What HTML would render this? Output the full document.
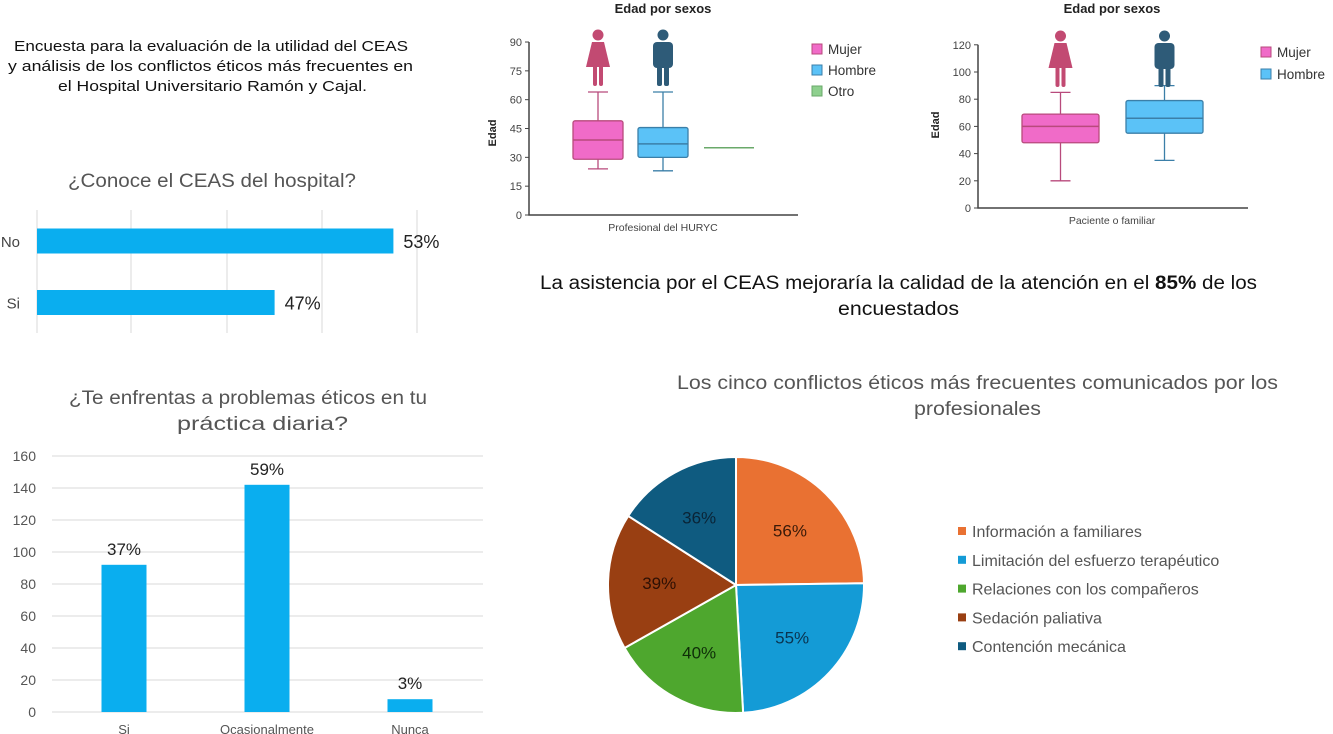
<!DOCTYPE html>
<html><head><meta charset="utf-8">
<style>
html,body{margin:0;padding:0;background:#fff;}
body{width:1333px;height:734px;overflow:hidden;position:relative;font-family:"Liberation Sans",sans-serif;}
svg{position:absolute;left:0;top:0;}
</style></head>
<body>
<svg id="s" width="1333" height="734" viewBox="0 0 1333 734">
<text x="14" y="51" font-size="15" textLength="394" lengthAdjust="spacingAndGlyphs" fill="#111">Encuesta para la evaluación de la utilidad del CEAS</text>
<text x="8" y="71" font-size="15" textLength="405" lengthAdjust="spacingAndGlyphs" fill="#111">y análisis de los conflictos éticos más frecuentes en</text>
<text x="58" y="91" font-size="15" textLength="309" lengthAdjust="spacingAndGlyphs" fill="#111">el Hospital Universitario Ramón y Cajal.</text>

<text x="68" y="187" font-size="19" textLength="288" lengthAdjust="spacingAndGlyphs" fill="#555">¿Conoce el CEAS del hospital?</text>
<text x="69" y="404" font-size="19" textLength="358" lengthAdjust="spacingAndGlyphs" fill="#555">¿Te enfrentas a problemas éticos en tu</text>
<text x="177" y="430" font-size="19" textLength="171" lengthAdjust="spacingAndGlyphs" fill="#555">práctica diaria?</text>

<text x="540" y="289" font-size="19" textLength="717" lengthAdjust="spacingAndGlyphs" fill="#111">La asistencia por el CEAS mejoraría la calidad de la atención en el <tspan font-weight="bold">85%</tspan> de los</text>
<text x="838" y="315" font-size="19" textLength="121" lengthAdjust="spacingAndGlyphs" fill="#111">encuestados</text>

<text x="677" y="389" font-size="19" textLength="601" lengthAdjust="spacingAndGlyphs" fill="#555">Los cinco conflictos éticos más frecuentes comunicados por los</text>
<text x="914" y="415" font-size="19" textLength="127" lengthAdjust="spacingAndGlyphs" fill="#555">profesionales</text>
</svg>
<script>
const NS="http://www.w3.org/2000/svg";
const svg=document.getElementById('s');
function mk(tag,attrs,parent){const e=document.createElementNS(NS,tag);for(const k in attrs)e.setAttribute(k,attrs[k]);(parent||svg).appendChild(e);return e;}
function txt(x,y,s,attrs){const e=mk('text',Object.assign({x:x,y:y},attrs||{}));e.textContent=s;return e;}

// ---------- Horizontal bar chart ----------
const hCats=["No","Si"];
const hVals=[53,47];
const hLabels=["53%","47%"];
const hMin=35;
const hx=v=>37+(v-hMin)*19.8;
[37,131,227,322,417].forEach(x=>{const l=mk('line',{x1:x,x2:x,y1:210,y2:333,stroke:'#d9d9d9','stroke-width':1});

});
hCats.forEach((c,i)=>{const yc=241+i*61.5;
const r=mk('rect',{x:37,y:yc-12.5,width:hx(hVals[i])-37,height:25,fill:'#0AAEEF'});


const t=txt(20,yc+6,c,{'font-size':15,'text-anchor':'end',fill:'#444'});


const v=txt(hx(hVals[i])+10,yc+7,hLabels[i],{'font-size':18,fill:'#222'});

});

// ---------- Vertical bar chart ----------
const vCats=["Si","Ocasionalmente","Nunca"];
const vVals=[92,142,8];
const vLabels=["37%","59%","3%"];
const vTicks=[0,20,40,60,80,100,120,140,160];
const vy=v=>712-v*1.6;
vTicks.forEach(t=>{const l=mk('line',{x1:52,x2:483,y1:vy(t),y2:vy(t),stroke:'#d9d9d9','stroke-width':1});


const e=txt(36,vy(t)+5,String(t),{'font-size':14,'text-anchor':'end',fill:'#555'});

});
vCats.forEach((c,i)=>{const xc=124+i*143;
const r=mk('rect',{x:xc-22.5,y:vy(vVals[i]),width:45,height:712-vy(vVals[i]),fill:'#0AAEEF'});


const v=txt(xc,vy(vVals[i])-10,vLabels[i],{'font-size':17,'text-anchor':'middle',fill:'#222'});


const t=txt(xc,734,c,{'font-size':13,'text-anchor':'middle',fill:'#555'});

});

// ---------- Box plots ----------
const boxCats=["Mujer","Hombre","Otro"];
const box1Stats=[[24,29,39,49,64],[23,30,37,45.5,64],[35,35,35,35,35]];
const box1Ticks=[0,15,30,45,60,75,90];
const box2Stats=[[20,48,60,69,85],[35,55,66,79,90]];
const box2Ticks=[0,20,40,60,80,100,120];
const boxFill=['#F06BC8','#5BC2F7','#8ED08E'];
const boxStroke=['#B84A7C','#3B7FA8','#6AA96A'];

function womanIcon(cx,top,col){const g=mk('g',{fill:col});


mk('circle',{cx:cx,cy:top+5,r:5.5},g);
mk('path',{d:`M${cx-6} ${top+12} L${cx+6} ${top+12} L${cx+12} ${top+37} L${cx-12} ${top+37} Z`},g);
mk('rect',{x:cx-5,y:top+35,width:4,height:21,rx:2},g);
mk('rect',{x:cx+1,y:top+35,width:4,height:21,rx:2},g);}
function manIcon(cx,top,col){const g=mk('g',{fill:col});


mk('circle',{cx:cx,cy:top+5,r:5.5},g);
mk('rect',{x:cx-10,y:top+12,width:20,height:26,rx:4},g);
mk('rect',{x:cx-6,y:top+30,width:5,height:26,rx:2},g);
mk('rect',{x:cx+1,y:top+30,width:5,height:26,rx:2},g);}

function boxChart(o){
const y=v=>o.y0-v*o.k;
const ax=mk('path',{d:`M${o.ax} ${y(o.ticks[o.ticks.length-1])} L${o.ax} ${o.y0} L${o.axEnd} ${o.y0}`,fill:'none',stroke:'#444','stroke-width':1.5});


o.ticks.forEach(t=>{mk('line',{x1:o.ax-4,x2:o.ax,y1:y(t),y2:y(t),stroke:'#444'});
const e=txt(o.ax-7,y(t)+4,String(t),{'font-size':11,'text-anchor':'end',fill:'#444'});

});
o.stats.forEach((s,i)=>{const x0=o.xs[i],w=o.w,xc=x0+w/2;
if(s[0]===s[4]){const l=mk('line',{x1:x0,x2:x0+w,y1:y(s[2]),y2:y(s[2]),stroke:boxStroke[i],'stroke-width':1.5});

return;}
const g=mk('g',{});


mk('line',{x1:xc,x2:xc,y1:y(s[0]),y2:y(s[4]),stroke:boxStroke[i],'stroke-width':1.3},g);
mk('line',{x1:xc-10,x2:xc+10,y1:y(s[0]),y2:y(s[0]),stroke:boxStroke[i],'stroke-width':1.3},g);
mk('line',{x1:xc-10,x2:xc+10,y1:y(s[4]),y2:y(s[4]),stroke:boxStroke[i],'stroke-width':1.3},g);
mk('rect',{x:x0,y:y(s[3]),width:w,height:y(s[1])-y(s[3]),fill:boxFill[i],stroke:boxStroke[i],'stroke-width':1.3,rx:2},g);
mk('line',{x1:x0,x2:x0+w,y1:y(s[2]),y2:y(s[2]),stroke:boxStroke[i],'stroke-width':1.5},g);
if(i===0)womanIcon(xc,o.iconTop,'#C24A72');else if(i===1)manIcon(xc,o.iconTop,'#2E5B78');});
const tt=txt(o.cx,13,'Edad por sexos',{'font-size':13,'font-weight':'bold','text-anchor':'middle',fill:'#222'});


const xl=txt(o.cx,o.y0+16,o.xlabel,{'font-size':10.5,'text-anchor':'middle',fill:'#444'});


const yl=txt(0,0,'Edad',{'font-size':11,'font-weight':'bold','text-anchor':'middle',fill:'#222',transform:`translate(${o.ylx},${o.yly}) rotate(-90)`});


o.legend.forEach((n,i)=>{const r=mk('rect',{x:o.lx,y:o.ly+i*o.ld-5,width:10,height:10,fill:boxFill[i],stroke:boxStroke[i]});


const t=txt(o.lx+16,o.ly+i*o.ld+5,n,{'font-size':13.5,fill:'#333'});

});}

boxChart({stats:box1Stats,ticks:box1Ticks,ax:529,axEnd:798,y0:215,k:1.922,xs:[573,638,704],w:50,iconTop:30,cx:663,xlabel:'Profesional del HURYC',ylx:496,yly:133,legend:['Mujer','Hombre','Otro'],lx:812,ly:49,ld:21});
boxChart({stats:box2Stats,ticks:box2Ticks,ax:978,axEnd:1248,y0:208,k:1.36,xs:[1022,1126],w:77,iconTop:31,cx:1112,xlabel:'Paciente o familiar',ylx:939,yly:125,legend:['Mujer','Hombre'],lx:1261,ly:52,ld:22});

// ---------- Pie chart ----------
const pieCats=["Información a familiares","Limitación del esfuerzo terapéutico","Relaciones con los compañeros","Sedación paliativa","Contención mecánica"];
const pieVals=[56,55,40,39,36];
const pieLabels=["56%","55%","40%","39%","36%"];
const pieCols=['#E97132','#149BD6','#4EA72E','#993F12','#0F5B80'];
const pieTxt=['#3a1a08','#0a3450','#0e2e08','#2e1004','#0a2436'];
const pcx=736,pcy=585,pr=128;
const tot=pieVals.reduce((a,b)=>a+b,0);
let acc=0;
pieVals.forEach((v,i)=>{const a0=acc/tot*2*Math.PI;acc+=v;const a1=acc/tot*2*Math.PI;
const p=(a,r)=>[pcx+r*Math.sin(a),pcy-r*Math.cos(a)];
const [x0,y0]=p(a0,pr),[x1,y1]=p(a1,pr);
const s=mk('path',{d:`M${pcx} ${pcy} L${x0} ${y0} A${pr} ${pr} 0 ${a1-a0>Math.PI?1:0} 1 ${x1} ${y1} Z`,fill:pieCols[i],stroke:'#fff','stroke-width':2});


const [lx,ly]=p((a0+a1)/2,pr*0.6);
const t=txt(lx,ly+6,pieLabels[i],{'font-size':17,'text-anchor':'middle',fill:pieTxt[i]});


const r=mk('rect',{x:958,y:527+i*28.8,width:8,height:8,fill:pieCols[i]});


const lt=txt(972,537+i*28.8,pieCats[i],{'font-size':16,fill:'#555'});

});
</script>
</body></html>
